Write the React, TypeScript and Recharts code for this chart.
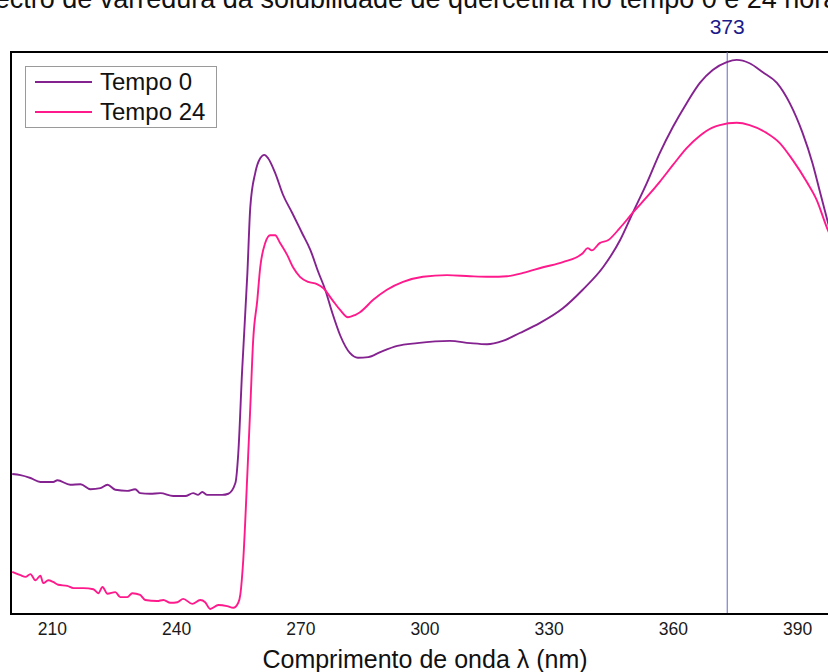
import React from 'react';
import { LineChart, Line, XAxis, YAxis, ReferenceLine, ReferenceArea } from 'recharts';

const titleText = 'Espectro de varredura da solubilidade de quercetina no tempo 0 e 24 horas';
const xAxisTitle = 'Comprimento de onda λ (nm)';
const xTicks = [210, 240, 270, 300, 330, 360, 390];
const peakWavelength = 373;

const wavelengthT0 = [
  200.3, 202.3, 204.7, 207.1, 210.2, 211.2, 214.3, 216.8, 219.2, 221.6, 223.3, 225.2, 228.1, 230.0, 231.2,
  233.6, 236.1, 239.2, 242.1, 244.0, 245.2, 246.2, 247.4, 251.0, 252.5, 254.2, 254.9, 255.8, 257.1, 257.8,
  259.0, 260.2, 261.2, 262.1, 263.8, 265.7, 267.9, 270.3, 272.3, 274.2, 275.9, 277.6, 279.5, 281.9, 283.8,
  286.3, 289.2, 293.3, 298.1, 306.0, 310.9, 315.0, 318.8, 322.9, 327.8, 333.3, 338.1, 343.0, 347.1, 350.2,
  353.6, 356.7, 359.9, 363.2, 366.4, 369.5, 372.9, 375.3, 378.4, 381.6, 385.0, 388.1, 391.2, 393.6, 395.3,
  397.0, 400.0,
];
const absorbanceT0 = [
  24.9, 24.7, 24.2, 23.5, 23.5, 23.8, 23.0, 23.1, 22.2, 22.4, 23.0, 22.1, 21.9, 22.2, 21.5,
  21.4, 21.5, 21.0, 21.0, 21.5, 21.2, 21.7, 21.2, 21.2, 21.4, 23.3, 28.6, 42.9, 60.7, 72.4,
  78.5, 81.1, 81.7, 81.1, 78.5, 74.6, 71.4, 67.8, 64.8, 60.9, 57.7, 53.6, 49.6, 46.4, 45.6,
  45.7, 46.6, 47.7, 48.2, 48.6, 48.2, 48.0, 48.6, 50.0, 51.8, 54.4, 57.7, 61.7, 66.5, 71.4,
  76.7, 82.0, 86.7, 90.9, 94.5, 96.8, 98.2, 98.6, 98.0, 96.4, 94.5, 90.9, 85.6, 80.2, 75.4,
  70.6, 62.0,
];

const wavelengthT24 = [
  200.3, 202.3, 203.5, 204.7, 205.9, 207.1, 207.8, 209.0, 210.2, 211.4, 213.6, 215.1, 217.5, 219.9, 221.1,
  222.1, 223.3, 225.2, 226.4, 228.1, 229.3, 231.2, 232.4, 235.3, 236.8, 238.5, 240.2, 241.6, 243.8, 245.7,
  246.9, 248.1, 250.1, 252.2, 253.7, 254.9, 255.4, 256.1, 257.1, 257.8, 258.5, 259.5, 260.2, 261.4, 262.6,
  263.8, 265.0, 266.7, 268.2, 269.8, 271.8, 273.9, 275.4, 277.6, 279.5, 281.4, 283.1, 284.3, 287.5, 290.8,
  294.7, 299.5, 305.3, 310.9, 315.7, 319.8, 323.7, 328.5, 333.3, 338.1, 339.3, 340.3, 342.2, 344.2, 347.1,
  350.2, 353.6, 356.7, 359.9, 363.2, 366.4, 369.3, 371.2, 375.3, 378.4, 382.5, 385.7, 388.8, 392.2, 394.6,
  397.0, 400.0,
];
const absorbanceT24 = [
  7.5, 6.9, 6.6, 7.1, 6.0, 6.8, 5.5, 6.0, 5.7, 5.2, 5.0, 4.6, 4.6, 4.4, 3.7,
  4.8, 3.6, 3.9, 3.0, 3.0, 3.7, 3.4, 2.5, 2.3, 2.5, 2.0, 2.1, 2.7, 1.8, 2.5,
  2.1, 0.9, 1.6, 1.4, 1.1, 2.0, 3.5, 9.6, 25.1, 36.8, 48.8, 55.9, 61.7, 66.0, 67.4,
  67.4, 66.0, 63.9, 61.6, 60.0, 59.1, 58.7, 58.0, 55.9, 54.1, 52.8, 53.2, 53.7, 55.9, 57.7,
  59.1, 60.0, 60.3, 60.1, 60.0, 60.1, 60.7, 61.7, 62.6, 64.2, 65.1, 64.7, 66.0, 66.5, 68.7,
  71.4, 74.2, 76.9, 79.9, 82.9, 85.1, 86.5, 87.0, 87.4, 87.0, 85.6, 83.8, 80.8, 76.9, 73.7,
  68.9, 64.0,
];

const seriesNames = ['Tempo 0', 'Tempo 24'];
const seriesColors = ['#842290', '#ff1a8c'];

const dataT0 = wavelengthT0.map((w, i) => ({ wl: w, v: absorbanceT0[i] }));
const dataT24 = wavelengthT24.map((w, i) => ({ wl: w, v: absorbanceT24[i] }));

const FONT = '"Liberation Sans", Arial, sans-serif';

export default function App() {
  return (
    <div style={{ position: 'fixed', left: 0, top: 0, width: 828, height: 672, overflow: 'hidden', background: '#fff' }}>
      <div
        style={{
          position: 'absolute',
          left: 400,
          top: -14,
          transform: 'translateX(-50%)',
          whiteSpace: 'nowrap',
          fontFamily: FONT,
          fontSize: 27,
          color: '#111',
          lineHeight: '27px',
        }}
      >
        {titleText}
      </div>
      <LineChart width={870} height={672} margin={{ top: 52, left: 11, right: 31, bottom: 18 }}>
        <XAxis
          type="number"
          dataKey="wl"
          domain={[200, 400]}
          ticks={xTicks}
          allowDataOverflow
          tickLine={false}
          axisLine={{ stroke: '#000', strokeWidth: 2 }}
          tick={{ fontSize: 17.5, fill: '#1a1a1a', fontFamily: FONT }}
          tickMargin={3}
          height={40}
          label={{ value: xAxisTitle, position: 'insideBottom', offset: -14, fontSize: 25, fill: '#111', fontFamily: FONT }}
        />
        <YAxis type="number" domain={[0, 100]} hide allowDataOverflow />
        <ReferenceArea x1={200} x2={400} y1={0} y2={100} fill="none" stroke="#000" strokeWidth={2} ifOverflow="visible" />
        <ReferenceLine
          x={peakWavelength}
          stroke="#6464cc"
          strokeWidth={1}
          label={{ value: String(peakWavelength), position: 'top', offset: 18, fill: '#1a1a8a', fontSize: 21, fontFamily: FONT }}
        />
        <Line
          data={dataT0}
          dataKey="v"
          name={seriesNames[0]}
          stroke={seriesColors[0]}
          strokeWidth={1.9}
          dot={false}
          type="monotone"
          isAnimationActive={false}
        />
        <Line
          data={dataT24}
          dataKey="v"
          name={seriesNames[1]}
          stroke={seriesColors[1]}
          strokeWidth={1.9}
          dot={false}
          type="monotone"
          isAnimationActive={false}
        />
      </LineChart>
      <div
        style={{
          position: 'absolute',
          left: 25,
          top: 66,
          width: 190,
          height: 60,
          border: '1px solid #9a9a9a',
          background: '#fff',
          fontFamily: FONT,
          fontSize: 24,
          color: '#111',
          lineHeight: '30px',
          boxSizing: 'content-box',
        }}
      >
        {seriesNames.map((name, i) => (
          <div key={name} style={{ display: 'flex', alignItems: 'center', paddingLeft: 9 }}>
            <span style={{ display: 'inline-block', width: 57, height: 2, background: seriesColors[i], marginRight: 8 }} />
            <span>{name}</span>
          </div>
        ))}
      </div>
    </div>
  );
}
